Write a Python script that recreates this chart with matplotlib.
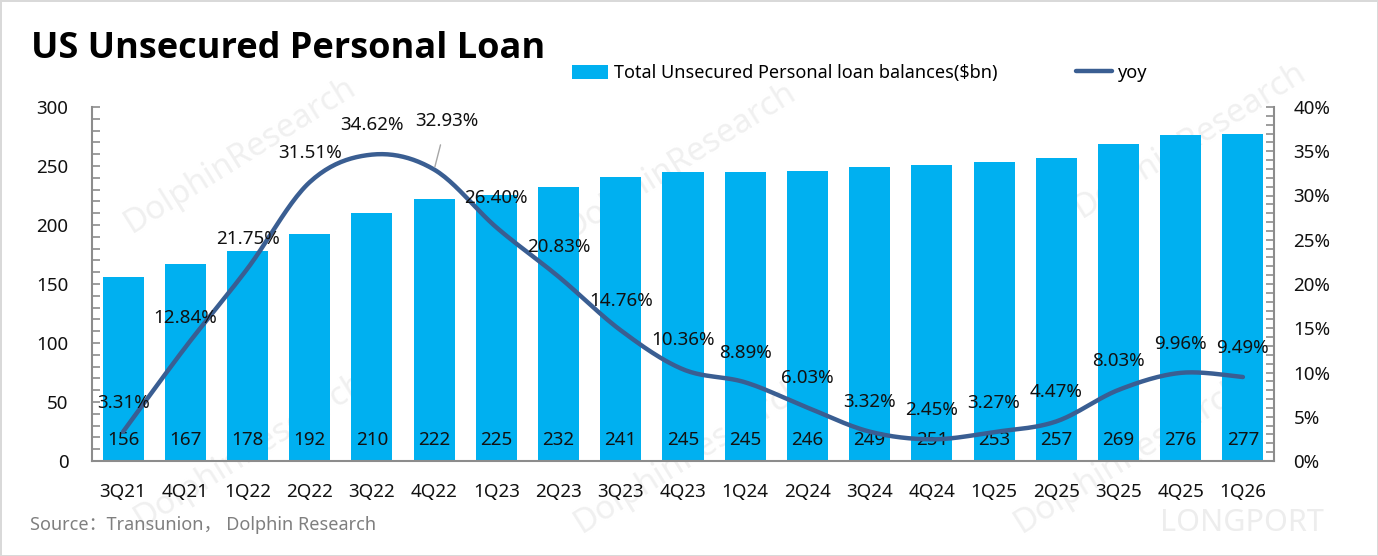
import numpy as np
import matplotlib
matplotlib.use("Agg")
import matplotlib.pyplot as plt
from matplotlib.ticker import MultipleLocator, FuncFormatter

plt.rcParams['font.family'] = ['Noto Sans', 'Noto Sans CJK SC', 'DejaVu Sans']

# data
quarters = ['3Q21', '4Q21', '1Q22', '2Q22', '3Q22', '4Q22', '1Q23', '2Q23', '3Q23', '4Q23',
            '1Q24', '2Q24', '3Q24', '4Q24', '1Q25', '2Q25', '3Q25', '4Q25', '1Q26']
balances = [156, 167, 178, 192, 210, 222, 225, 232, 241, 245,
            245, 246, 249, 251, 253, 257, 269, 276, 277]
yoy = [3.31, 12.84, 21.75, 31.51, 34.62, 32.93, 26.40, 20.83, 14.76, 10.36,
       8.89, 6.03, 3.32, 2.45, 3.27, 4.47, 8.03, 9.96, 9.49]

BAR_COLOR = '#00B0F0'
LINE_COLOR = '#3A5E92'
AXIS_COLOR = '#8C8C8C'
LABEL_SIZE = 13.5


def smooth_curve(xs, ys, steps=24):
    """Catmull-Rom curve through the points (same idea as Excel's smoothed line)."""
    p = np.column_stack([xs, ys]).astype(float)
    p = np.vstack([p[0], p, p[-1]])
    out = []
    t = np.linspace(0, 1, steps, endpoint=False)[:, None]
    for i in range(1, len(p) - 2):
        p0, p1, p2, p3 = p[i - 1], p[i], p[i + 1], p[i + 2]
        seg = 0.5 * ((2 * p1) + (-p0 + p2) * t + (2 * p0 - 5 * p1 + 4 * p2 - p3) * t ** 2
                     + (-p0 + 3 * p1 - 3 * p2 + p3) * t ** 3)
        out.append(seg)
    out.append(p[-2][None, :])
    out = np.vstack(out)
    return out[:, 0], out[:, 1]


fig = plt.figure(figsize=(13.78, 5.56), dpi=100)
fig.patch.set_facecolor('white')
fig.patch.set_edgecolor('#D9D9D9')
fig.patch.set_linewidth(2)

# faint watermarks behind everything
for wx, wy in [(240, 155), (680, 160), (1190, 140), (250, 450), (690, 455), (1130, 455)]:
    fig.text(wx / 1378, 1 - wy / 556, 'DolphinResearch', fontsize=24, rotation=32,
             ha='center', va='center', color='#E6E6E6', alpha=0.6, zorder=0)
fig.text(1160 / 1378, 1 - 523 / 556, 'LONGPORT', fontsize=22, ha='left', va='center',
         color='#EDEDED', zorder=0)

ax = fig.add_axes([92 / 1378, 1 - 461 / 556, 1182 / 1378, 354 / 556])
ax2 = ax.twinx()
ax.set_zorder(1)
ax2.set_zorder(2)
ax.patch.set_visible(False)
ax2.patch.set_visible(False)

x = np.arange(len(quarters))
bars = ax.bar(x, balances, width=0.66, color=BAR_COLOR, label='Total Unsecured Personal loan balances($bn)')

# bar values sit at the bottom of each bar
for xi, v in zip(x, balances):
    ax.annotate(f'{v}', (xi, 0), xytext=(0, 15), textcoords='offset points',
                ha='center', va='center', fontsize=LABEL_SIZE, color='#111111')

sx, sy = smooth_curve(x, yoy)
line, = ax2.plot(sx, sy, color=LINE_COLOR, lw=3.2, solid_capstyle='round', label='yoy')

# yoy labels above the points; one label was pulled away with a leader line
moved = {5: (9, 35)}
for i, (xi, v) in enumerate(zip(x, yoy)):
    if i in moved:
        ax2.annotate(f'{v:.2f}%', (xi, v), xytext=moved[i], textcoords='offset points',
                     ha='center', va='center', fontsize=LABEL_SIZE, color='#111111',
                     arrowprops=dict(arrowstyle='-', color='#A6A6A6', lw=1,
                                     shrinkA=9, shrinkB=2))
    else:
        ax2.annotate(f'{v:.2f}%', (xi, v), xytext=(0, 21), textcoords='offset points',
                     ha='center', va='center', fontsize=LABEL_SIZE, color='#111111')

ax.set_xlim(-0.5, len(quarters) - 0.5)
ax.set_ylim(0, 300)
ax2.set_ylim(0, 40)
ax.set_xticks(x)
ax.set_xticklabels(quarters)
ax.yaxis.set_major_locator(MultipleLocator(50))
ax.yaxis.set_minor_locator(MultipleLocator(10))
ax2.yaxis.set_major_locator(MultipleLocator(5))
ax2.yaxis.set_minor_locator(MultipleLocator(1))
ax2.yaxis.set_major_formatter(FuncFormatter(lambda v, _: f'{v:.0f}%'))

for a in (ax, ax2):
    a.spines['top'].set_visible(False)
    for s in ('left', 'right', 'bottom'):
        a.spines[s].set_color(AXIS_COLOR)
        a.spines[s].set_linewidth(1.5)
ax.spines['right'].set_visible(False)
ax2.spines['left'].set_visible(False)
ax2.spines['bottom'].set_visible(False)

ax.tick_params(axis='x', length=0, pad=16, labelsize=LABEL_SIZE, labelcolor='#111111')
ax.tick_params(axis='y', which='major', direction='in', length=6, width=1.2, color=AXIS_COLOR,
               pad=17, labelsize=LABEL_SIZE, labelcolor='#111111')
ax.tick_params(axis='y', which='minor', direction='in', length=6, width=1.2, color=AXIS_COLOR)
ax2.tick_params(axis='y', which='major', direction='in', length=6, width=1.2, color=AXIS_COLOR,
                pad=14, labelsize=LABEL_SIZE, labelcolor='#111111')
ax2.tick_params(axis='y', which='minor', direction='in', length=6, width=1.2, color=AXIS_COLOR)

# legend
fig.legend(handles=[bars, line], loc='center left', bbox_to_anchor=(572 / 1378, 1 - 73 / 556),
           ncol=2, frameon=False, fontsize=13, handlelength=2.0, handleheight=0.8,
           handletextpad=0.35, columnspacing=4.3, borderpad=0, borderaxespad=0)

# title and source
fig.text(31 / 1378, 1 - 49 / 556, 'US Unsecured Personal Loan', fontsize=26, fontweight='bold',
         family='Open Sans', ha='left', va='center', color='black')
fig.text(30 / 1378, 1 - 525 / 556, 'Source：Transunion， Dolphin Research', fontsize=13,
         ha='left', va='center', color='#7F7F7F')

fig.savefig('out.png', dpi=100, facecolor=fig.get_facecolor(), edgecolor=fig.get_edgecolor())
